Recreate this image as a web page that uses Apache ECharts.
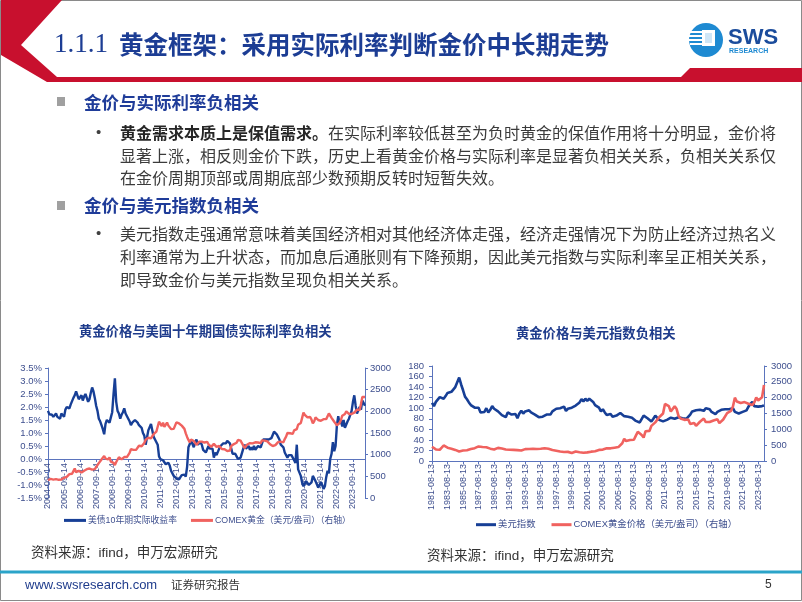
<!DOCTYPE html>
<html><head><meta charset="utf-8">
<script src="https://cdn.jsdelivr.net/npm/echarts@6/dist/echarts.min.js"></script>
<style>html,body{margin:0;padding:0;background:#fff}#c{width:802px;height:602px}</style>
</head><body><div id="c"></div>
<script>
// ---------- Left chart: monthly, from 2004-09 ----------
const realRate = [
1.85,1.72,1.68,1.70,
1.62,1.55,1.75,1.62,1.65,1.55,1.75,1.72,1.62,1.90,2.00,2.05,
1.95,2.10,2.15,2.35,2.45,2.60,2.45,2.30,2.35,2.45,2.25,2.40,
2.50,2.35,2.20,2.30,2.55,2.75,2.60,2.35,2.05,1.85,1.55,1.45,
1.30,1.15,0.95,1.35,1.50,1.55,1.40,1.60,1.80,2.50,3.10,2.20,
1.85,1.75,1.55,1.70,1.80,1.95,1.75,1.80,1.55,1.45,1.30,1.40,
1.45,1.50,1.55,1.40,1.30,1.35,1.20,1.00,0.90,0.55,0.60,1.10,
1.05,1.35,1.10,0.85,0.75,0.70,0.55,0.10,0.00,-0.05,-0.05,-0.10,
-0.20,-0.25,-0.15,-0.25,-0.45,-0.50,-0.65,-0.60,-0.75,-0.80,-0.78,-0.70,
-0.62,-0.65,-0.60,-0.68,-0.30,0.45,0.45,0.70,0.65,0.45,0.65,0.75,
0.55,0.55,0.65,0.55,0.35,0.35,0.25,0.25,0.50,0.40,0.45,0.40,
0.05,0.25,0.15,0.15,0.40,0.50,0.55,0.60,0.65,0.60,0.70,0.70,
0.60,0.40,0.20,0.15,0.20,0.10,0.00,0.05,0.05,0.10,0.40,0.55,
0.40,0.40,0.50,0.35,0.45,0.35,0.50,0.35,0.40,0.50,0.50,0.45,
0.60,0.75,0.70,0.75,0.80,0.75,0.75,0.80,0.85,1.05,1.10,0.95,
0.85,0.75,0.55,0.60,0.45,0.25,0.20,0.05,0.15,0.15,0.15,0.10,
-0.05,-0.15,0.55,-0.40,-0.45,-0.65,-0.90,-1.05,-0.95,-0.85,-0.80,-1.00,
-1.00,-0.90,-0.65,-0.70,-0.85,-0.85,-1.10,-1.05,-0.90,-1.00,-1.15,-1.05,
-0.70,-0.45,-0.55,0.00,0.20,0.65,0.30,0.50,1.30,1.65,1.35,1.50,
1.25,1.50,1.20,1.20,1.45,1.55,1.55,1.85,2.20,2.45,2.05,1.75,
1.80,2.00,1.90,2.25,2.15,2.05
];
const goldMonthly = [
410,425,440,440,
425,425,435,430,420,435,425,440,465,470,490,510,
550,555,560,620,680,595,630,630,600,585,630,630,
630,665,655,680,665,655,665,665,715,755,805,805,
890,920,970,910,890,890,940,840,830,810,760,830,
860,940,920,890,925,945,935,945,990,1040,1125,1135,
1110,1095,1115,1150,1205,1230,1195,1215,1270,1345,1370,1390,
1360,1375,1425,1475,1510,1530,1570,1760,1780,1660,1740,1640,
1650,1740,1670,1650,1590,1595,1595,1630,1745,1750,1720,1690,
1670,1630,1595,1490,1410,1340,1285,1350,1350,1315,1280,1225,
1245,1300,1335,1300,1290,1280,1310,1295,1240,1225,1180,1200,
1250,1230,1180,1195,1200,1180,1130,1120,1125,1160,1085,1070,
1095,1200,1245,1245,1260,1275,1340,1340,1325,1265,1240,1150,
1190,1235,1230,1265,1245,1260,1235,1285,1315,1280,1280,1265,
1330,1330,1325,1335,1305,1280,1240,1205,1200,1215,1220,1250,
1290,1320,1300,1285,1285,1360,1415,1500,1510,1495,1470,1480,
1560,1600,1590,1690,1720,1730,1850,1970,1920,1900,1860,1860,
1870,1810,1720,1770,1860,1830,1800,1790,1780,1780,1820,1790,
1820,1860,1950,1920,1850,1840,1760,1760,1680,1660,1730,1800,
1900,1860,1940,2000,1990,1940,1950,1940,1920,1970,1990,2040,
2040,2030,2170,2330,2350,2330
];
// ---------- Right chart: quarterly, from 1981-08 ----------
const dxy = [
110,104,
112,114,121,120, 118,123,129,128, 131,134,140,143, 158,145,134,122,
117,111,106,108, 101,99,101,92, 90,93,100,92, 97,104,99,96,
94,93,87,84, 83,92,95,88, 91,89,81,90, 95,90,94,96,
96,92,89,88, 87,83,85,84, 86,88,86,88, 94,96,99,98,
100,100,103,95, 99,101,101,102, 105,108,111,117, 113,118,114,118,
119,112,106,106, 101,94,98,92, 87,90,89,84, 83,86,88,91,
90,85,85,84, 85,82,81,76, 75,73,76,86, 88,81,79,75,
80,86,83,78, 77,75,74,78, 79,82,82,80, 81,83,81,81,
80,80,82,88, 94,96,96,99, 97,95,95,100, 101,98,93,94,
89,93,96,97, 96,98,98,98, 99,100,93,92, 90,90,93,96,
96,103,108,112, 104,103,103,104,
104,105
];
const goldQuarterly = [
450,410,
365,330,355,420, 490,440,420,390, 390,380,350,340, 300,315,330,325,
340,345,380,400, 405,455,460,470, 440,450,435,420, 390,370,365,390,
415,370,395,380, 365,360,355,360, 350,338,343,335, 330,370,375,375,
380,385,385,385, 378,385,385,385, 405,390,385,375, 345,345,325,305,
298,300,285,295, 288,280,255,295, 300,275,275,265, 262,270,272,278,
295,310,310,320, 350,355,360,390, 400,380,400,430, 420,425,440,480,
560,700,630,625, 665,670,670,800, 920,880,820,740, 940,920,950,1110,
1100,1220,1220,1380, 1370,1500,1800,1750, 1730,1560,1610,1730, 1640,1420,1340,1280,
1300,1295,1310,1170, 1220,1200,1110,1085, 1240,1270,1340,1230, 1230,1230,1290,1280,
1330,1320,1195,1210, 1310,1290,1510,1460, 1580,1720,2000,1880, 1820,1830,1770,1860,
1860,1810,1800,1770, 1850,2010,1910,1960,
2010,2400
];
const leftSeriesNames = ['美债10年期实际收益率', 'COMEX黄金（美元/盎司）（右轴）'];
const rightSeriesNames = ['美元指数', 'COMEX黄金价格（美元/盎司）（右轴）'];

function dateCats(y, m, n, day, step) {
  const a = [];
  for (let i = 0; i < n; i++) {
    const mm = m - 1 + i * step;
    const yy = y + Math.floor(mm / 12);
    const mo = mm % 12 + 1;
    a.push(yy + '-' + String(mo).padStart(2, '0') + '-' + day);
  }
  return a;
}
const leftCats = dateCats(2004, 9, realRate.length, '14', 1);
const rightCats = dateCats(1981, 8, dxy.length, '13', 3);

const BLUE = '#173f96', RED = '#f0625f';
const AX = '#5b74bd', LBL = '#3e4f8e';
const FONT = '"Liberation Sans","Noto Sans CJK SC",sans-serif';
const CJK = '"Noto Sans CJK SC",sans-serif';

function txt(x, y, text, font, fill, align) {
  return { type: 'text', x: x, y: y, silent: true, z: 10,
    style: { text: text, font: font, fill: fill, textAlign: align || 'left', align: align || 'left',
      textVerticalAlign: 'middle', verticalAlign: 'middle' } };
}
const graphic = [
  { type: 'rect', shape: { x: 0.5, y: 0.5, width: 801, height: 600 }, style: { fill: 'none', stroke: '#8a8a8a', lineWidth: 1 }, silent: true },
  { type: 'polygon', shape: { points: [[1,0],[62,0],[21,45],[57,77],[802,77],[802,82],[47,82],[1,55]] }, style: { fill: '#c8102e' }, silent: true },
  { type: 'polygon', shape: { points: [[676,82],[690,68],[802,68],[802,82]] }, style: { fill: '#c8102e' }, silent: true },
  // logo
  { type: 'circle', shape: { cx: 706, cy: 40, r: 17 }, style: { fill: '#1e8ad2' }, silent: true },
  { type: 'rect', shape: { x: 690, y: 31, width: 12, height: 2 }, style: { fill: '#fff' }, silent: true },
  { type: 'rect', shape: { x: 689, y: 35, width: 13, height: 2 }, style: { fill: '#fff' }, silent: true },
  { type: 'rect', shape: { x: 689, y: 39, width: 13, height: 2 }, style: { fill: '#fff' }, silent: true },
  { type: 'rect', shape: { x: 690, y: 43, width: 12, height: 2 }, style: { fill: '#fff' }, silent: true },
  { type: 'rect', shape: { x: 702, y: 30, width: 13, height: 16 }, style: { fill: '#fff' }, silent: true },
  { type: 'rect', shape: { x: 705, y: 33, width: 7, height: 10 }, style: { fill: '#cfe6f7' }, silent: true },
  txt(728, 38, 'SWS', 'bold 22px "Liberation Sans"', '#1b4c9c'),
  txt(729, 51, 'RESEARCH', 'bold 7px "Liberation Sans"', '#1e8ad2'),
  // title
  txt(54, 45, '1.1.1', '27px "Liberation Serif"', '#1c3d94'),
  txt(119, 45, '黄金框架：采用实际利率判断金价中长期走势', 'bold 24.5px ' + CJK, '#1c3d94'),
  // bullets
  { type: 'rect', shape: { x: 57, y: 97, width: 8, height: 9 }, style: { fill: '#a0a0a0' }, silent: true },
  txt(84, 102, '金价与实际利率负相关', 'bold 17.5px ' + CJK, '#1f3c99'),
  txt(96, 133, '•', '15px "Liberation Sans"', '#404040'),
  txt(120, 133, '黄金需求本质上是保值需求。', 'bold 16px ' + CJK, '#262626'),
  txt(328, 133, '在实际利率较低甚至为负时黄金的保值作用将十分明显，金价将', '16px ' + CJK, '#3b3b3b'),
  txt(120, 156, '显著上涨，相反则金价下跌，历史上看黄金价格与实际利率是显著负相关关系，负相关关系仅', '16px ' + CJK, '#3b3b3b'),
  txt(120, 178, '在金价周期顶部或周期底部少数预期反转时短暂失效。', '16px ' + CJK, '#3b3b3b'),
  { type: 'rect', shape: { x: 57, y: 201, width: 8, height: 9 }, style: { fill: '#a0a0a0' }, silent: true },
  txt(84, 205, '金价与美元指数负相关', 'bold 17.5px ' + CJK, '#1f3c99'),
  txt(96, 234, '•', '15px "Liberation Sans"', '#404040'),
  txt(120, 234, '美元指数走强通常意味着美国经济相对其他经济体走强，经济走强情况下为防止经济过热名义', '16px ' + CJK, '#3b3b3b'),
  txt(120, 257, '利率通常为上升状态，而加息后通胀则有下降预期，因此美元指数与实际利率呈正相关关系，', '16px ' + CJK, '#3b3b3b'),
  txt(120, 280, '即导致金价与美元指数呈现负相关关系。', '16px ' + CJK, '#3b3b3b'),
  // chart titles
  txt(79, 331, '黄金价格与美国十年期国债实际利率负相关', 'bold 13.3px ' + CJK, '#1f3c8c'),
  txt(516, 333, '黄金价格与美元指数负相关', 'bold 13.3px ' + CJK, '#1f3c8c'),
  // sources
  txt(31, 553, '资料来源：ifind，申万宏源研究', '13.5px ' + FONT, '#333'),
  txt(427, 556, '资料来源：ifind，申万宏源研究', '13.5px ' + FONT, '#333'),
  // footer
  { type: 'line', shape: { x1: 0, y1: 572, x2: 802, y2: 572 }, style: { stroke: '#2ba4c9', lineWidth: 3 }, silent: true },
  txt(25, 585, 'www.swsresearch.com', '13px "Liberation Sans"', '#1f3c8c'),
  txt(171, 585, '证券研究报告', '11.5px ' + CJK, '#333'),
  txt(765, 585, '5', '12px "Liberation Sans"', '#333')
];

function yAx(grid, pos, min, max, interval, fmt, margin) {
  return { type: 'value', gridIndex: grid, position: pos, min: min, max: max, interval: interval,
    axisLine: { show: true, lineStyle: { color: AX, width: 1 } },
    axisTick: { show: true, length: 3, lineStyle: { color: AX } },
    splitLine: { show: false },
    axisLabel: { fontSize: 9.5, color: LBL, fontFamily: '"Liberation Sans"', margin: margin, formatter: fmt } };
}
function xAx(grid, cats, interval, margin, offset) {
  return { type: 'category', gridIndex: grid, data: cats, boundaryGap: false, offset: offset,
    axisLine: { onZero: false, lineStyle: { color: AX, width: 1 } },
    axisTick: { show: true, interval: interval, length: 3, lineStyle: { color: AX } },
    splitLine: { show: false },
    axisLabel: { interval: interval, rotate: 90, fontSize: 9, color: LBL, fontFamily: '"Liberation Sans"', margin: margin } };
}

const option = {
  animation: false,
  backgroundColor: '#fff',
  graphic: graphic,
  grid: [
    { left: 48, top: 368, width: 317, height: 130 },
    { left: 432, top: 366, width: 332, height: 95 }
  ],
  // left chart's x axis sits at the 0.0% line: 130 * 1.5 / 5 = 39 px above the grid bottom
  xAxis: [ xAx(0, leftCats, 11, 4, -39), xAx(1, rightCats, 7, 3, 0) ],
  yAxis: [
    yAx(0, 'left', -1.5, 3.5, 0.5, v => v.toFixed(1) + '%', 6),
    yAx(0, 'right', 0, 3000, 500, v => String(v), 5),
    yAx(1, 'left', 0, 180, 20, v => String(v), 8),
    yAx(1, 'right', 0, 3000, 500, v => String(v), 7)
  ],
  legend: [
    { data: leftSeriesNames, left: 64, top: 516, padding: 0, itemGap: 14, icon: 'rect', itemWidth: 22, itemHeight: 3,
      textStyle: { fontSize: 8.8, color: LBL, fontFamily: FONT, padding: [0, 0, 0, -3] } },
    { data: rightSeriesNames, left: 476, top: 520, padding: 0, itemGap: 16, icon: 'rect', itemWidth: 20, itemHeight: 3,
      textStyle: { fontSize: 9.4, color: LBL, fontFamily: FONT, padding: [0, 0, 0, -3] } }
  ],
  series: [
    { name: leftSeriesNames[0], type: 'line', xAxisIndex: 0, yAxisIndex: 0, data: realRate, symbol: 'none',
      lineStyle: { color: BLUE, width: 2.4 }, itemStyle: { color: BLUE } },
    { name: leftSeriesNames[1], type: 'line', xAxisIndex: 0, yAxisIndex: 1, data: goldMonthly, symbol: 'none',
      lineStyle: { color: RED, width: 2.4 }, itemStyle: { color: RED } },
    { name: rightSeriesNames[0], type: 'line', xAxisIndex: 1, yAxisIndex: 2, data: dxy, symbol: 'none',
      lineStyle: { color: BLUE, width: 2.6 }, itemStyle: { color: BLUE } },
    { name: rightSeriesNames[1], type: 'line', xAxisIndex: 1, yAxisIndex: 3, data: goldQuarterly, symbol: 'none',
      lineStyle: { color: RED, width: 2.6 }, itemStyle: { color: RED } }
  ]
};
const chart = echarts.init(document.getElementById('c'), null, { renderer: 'canvas' });
chart.setOption(option);
</script></body></html>
